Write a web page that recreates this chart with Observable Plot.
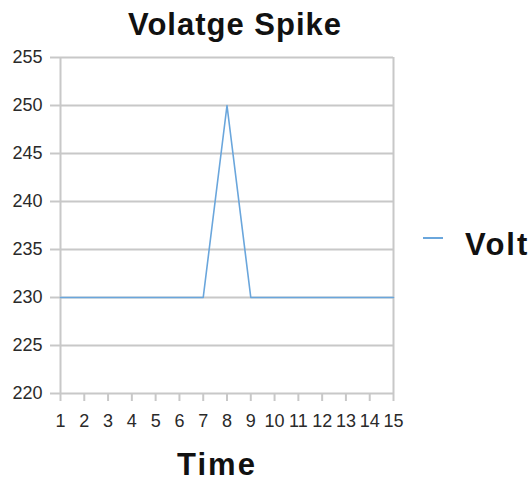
<!DOCTYPE html>
<html>
<head>
<meta charset="utf-8">
<script src="https://cdn.jsdelivr.net/npm/d3@7"></script>
<script src="https://cdn.jsdelivr.net/npm/@observablehq/plot@0.6"></script>
<style>
  html, body { margin: 0; padding: 0; background: #fff; }
  #wrap { position: relative; width: 531px; height: 482px; font-family: "Liberation Sans", Arial, sans-serif; }
  .lbl { position: absolute; font-weight: bold; color: #111; white-space: nowrap; line-height: normal; }
</style>
</head>
<body>
<div id="wrap"></div>
<script>
const chartTitle = "Volatge Spike";
const xTitle = "Time";
const seriesName = "Volt";
const time = [1, 2, 3, 4, 5, 6, 7, 8, 9, 10, 11, 12, 13, 14, 15];
const volt = [230, 230, 230, 230, 230, 230, 230, 250, 230, 230, 230, 230, 230, 230, 230];
const yTicks = [220, 225, 230, 235, 240, 245, 250, 255];

const data = time.map((t, i) => ({time: t, volt: volt[i]}));
const gridColor = "#c8c8c8";
const lineColor = "#6aa6dc";

const plot = Plot.plot({
  width: 531,
  height: 482,
  marginTop: 57,
  marginBottom: 89,
  marginLeft: 60,
  marginRight: 138,
  style: {fontFamily: "'Liberation Sans', Arial, sans-serif", fontSize: "18px", background: "#fff"},
  x: {domain: [1, 15]},
  y: {domain: [220, 255]},
  marks: [
    Plot.gridY(yTicks, {stroke: gridColor, strokeOpacity: 1, strokeWidth: 2}),
    Plot.ruleX([1, 15], {stroke: gridColor, strokeWidth: 2}),
    Plot.axisY(yTicks, {tickSize: 10, tickPadding: 8, stroke: gridColor, strokeWidth: 2, fill: "#2a2a2a", label: null, fontSize: 18, letterSpacing: "-0.5px"}),
    Plot.axisX(time, {tickSize: 8, tickPadding: 13, stroke: gridColor, strokeWidth: 2, fill: "#2a2a2a", label: null, fontSize: 18, letterSpacing: "-0.5px"}),
    Plot.line(data, {x: "time", y: "volt", stroke: lineColor, strokeWidth: 1.6})
  ]
});
const wrap = document.getElementById("wrap");
wrap.appendChild(plot);

function addLabel(text, style) {
  const d = document.createElement("div");
  d.className = "lbl";
  d.textContent = text;
  Object.assign(d.style, style);
  wrap.appendChild(d);
  return d;
}
addLabel(chartTitle, {left: "0px", width: "470px", textAlign: "center", top: "7px", fontSize: "31px", letterSpacing: "1px"});
addLabel(xTitle, {left: "0px", width: "434px", textAlign: "center", top: "447px", fontSize: "31px", letterSpacing: "2px"});
const sw = document.createElement("div");
Object.assign(sw.style, {position: "absolute", left: "423px", top: "237px", width: "20px", height: "2px", background: lineColor});
wrap.appendChild(sw);
addLabel(seriesName, {left: "465px", top: "227px", fontSize: "31px", letterSpacing: "2px"});
</script>
</body>
</html>
